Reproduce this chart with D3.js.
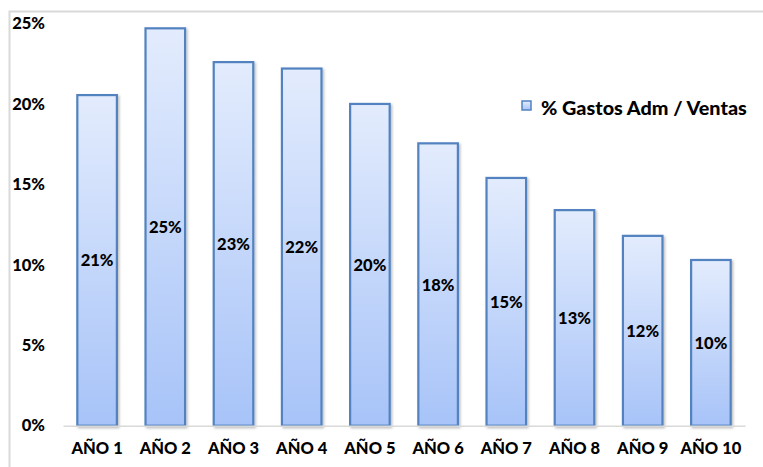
<!DOCTYPE html>
<html><head><meta charset="utf-8">
<script src="https://cdn.jsdelivr.net/npm/d3@7"></script>
<style>
html,body{margin:0;padding:0;background:#fff;}
svg{display:block;font-family:Lato,"Open Sans",sans-serif;font-weight:900;}
</style></head>
<body>
<svg id="chart" width="763" height="467"></svg>
<script>
const categories = ["AÑO 1","AÑO 2","AÑO 3","AÑO 4","AÑO 5","AÑO 6","AÑO 7","AÑO 8","AÑO 9","AÑO 10"];
const values = [20.55, 24.7, 22.6, 22.2, 20.0, 17.55, 15.4, 13.4, 11.8, 10.3];
const yTicks = [0, 5, 10, 15, 20, 25];
const seriesName = "% Gastos Adm / Ventas";

const svg = d3.select("#chart");
const defs = svg.append("defs");
const grad = defs.append("linearGradient").attr("id","barGrad").attr("x1",0).attr("y1",0).attr("x2",0).attr("y2",1);
grad.append("stop").attr("offset","0%").attr("stop-color","#e3ecfd");
grad.append("stop").attr("offset","100%").attr("stop-color","#a7c3f8");
const f = defs.append("filter").attr("id","shadow").attr("x","-20%").attr("y","-5%").attr("width","150%").attr("height","115%");
f.append("feDropShadow").attr("dx",1.5).attr("dy",1.5).attr("stdDeviation",1.2).attr("flood-color","#000").attr("flood-opacity",0.25);

// outer border (top & left visible)
svg.append("rect").attr("x",9.5).attr("y",11.5).attr("width",800).attr("height",500)
  .attr("fill","none").attr("stroke","#d9d9d9").attr("stroke-width",2);

const x = d3.scaleBand().domain(categories).range([63,745]).paddingInner(0.42).paddingOuter(0.21);
const y = d3.scaleLinear().domain([0,25]).range([425.7,23.5]);

const FS = 16.5;
// y axis labels
const yAxis = d3.axisLeft(y).tickValues(yTicks).tickFormat(d=>d+"%").tickSize(0).tickPadding(0);
const gy = svg.append("g").attr("transform","translate(45,0)").call(yAxis);
gy.select(".domain").remove();
gy.selectAll("text").attr("font-size",FS).attr("font-family","Lato,sans-serif").attr("font-weight",900).attr("fill","#000");

// bars
svg.append("g").selectAll("rect").data(values).join("rect")
  .attr("x",(d,i)=>x(categories[i]))
  .attr("y",d=>y(d))
  .attr("width",x.bandwidth())
  .attr("height",d=>y(0)-y(d))
  .attr("fill","url(#barGrad)")
  .attr("stroke","#5282c0").attr("stroke-width",2.2)
  .attr("filter","url(#shadow)");

// x axis
const xAxis = d3.axisBottom(x).tickSize(0).tickPadding(17);
const gx = svg.append("g").attr("transform",`translate(0,${y(0)})`).call(xAxis);
gx.select(".domain").attr("stroke","#d9d9d9").attr("stroke-width",1.5);
gx.selectAll("text").attr("font-size",FS).attr("font-family","Lato,sans-serif").attr("font-weight",900).attr("fill","#000");

// data labels
svg.append("g").selectAll("text").data(values).join("text")
  .attr("x",(d,i)=>x(categories[i])+x.bandwidth()/2)
  .attr("y",d=>(y(d)+y(0))/2)
  .attr("text-anchor","middle").attr("dominant-baseline","central")
  .attr("font-size",FS).attr("fill","#000")
  .text(d=>Math.round(d)+"%");

// legend
const lg = svg.append("g").attr("transform","translate(522,101)");
lg.append("rect").attr("width",9).attr("height",9).attr("fill","url(#barGrad)").attr("stroke","#5282c0").attr("stroke-width",1.5);
lg.append("text").attr("x",19).attr("y",6).attr("dominant-baseline","central").attr("font-size",19.8).attr("fill","#000").text(seriesName);
</script>
</body></html>
